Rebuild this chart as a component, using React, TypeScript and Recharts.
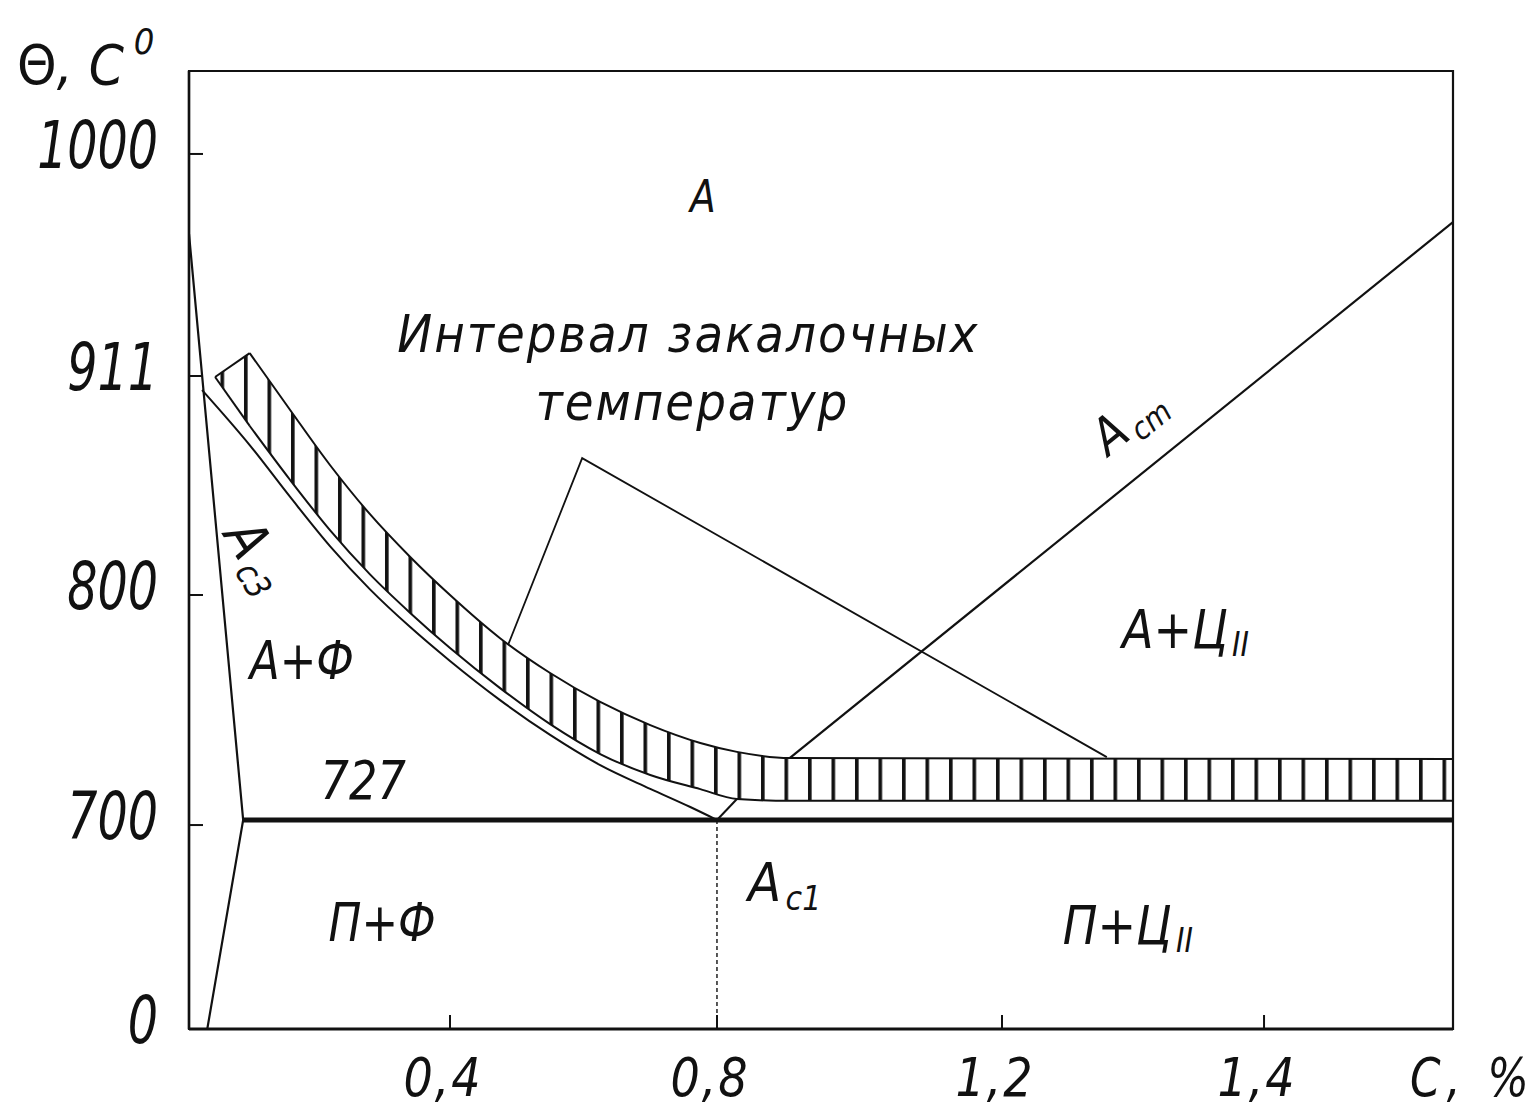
import React from 'react';
import {
  ComposedChart,
  XAxis,
  YAxis,
  Line,
  Area,
  ReferenceArea,
  ReferenceDot,
} from 'recharts';

// ---------- schematic axes (piecewise-linear) ----------
// carbon content, %: knot values and their share of the axis length
const carbonKnots = [0, 0.4, 0.8, 1.2, 1.4, 1.6];
const carbonKnotShare = [0, 0.2065, 0.4177, 0.6432, 0.8505, 1];
const carbonTicks = [0.4, 0.8, 1.2, 1.4];

// temperature, °C: knot values and their share of the axis height
const tempKnots = [0, 700, 727, 800, 911, 1000, 1035];
const tempKnotShare = [0, 0.2129, 0.2182, 0.453, 0.6816, 0.9134, 1];
const tempTicks = [0, 700, 800, 911, 1000];

// ---------- phase boundaries ----------
// ferrite boundary near the iron side
const gpC = [0, 0.083, 0.028];
const gpT = [968, 727, 0];

// Ac3 line
const ac3C = [0.02, 0.093, 0.155, 0.216, 0.277, 0.339, 0.4, 0.475, 0.55, 0.625, 0.7, 0.76, 0.8];
const ac3T = [903.9, 876.0, 849.7, 824.8, 803.0, 789.6, 778.6, 765.9, 754.6, 744.8, 737.1, 731.2, 727];

// eutectoid line (Ac1)
const ac1C = [0.083, 1.6];
const ac1T = [727, 727];

// Acm line
const acmC = [0.902, 1.6];
const acmT = [747.1, 972.7];

// eutectoid composition drop line
const eutC = [0.8, 0.8];
const eutT = [727, 0];

// quenching temperature interval: left wedge
const capC = [0.04, 0.093];
const capLow = [910.5, 885.7];
const capHigh = [910.5, 920.2];

// quenching temperature interval: main band
const bandC = [0.093, 0.155, 0.216, 0.277, 0.339, 0.4, 0.475, 0.55, 0.625, 0.7, 0.775, 0.828, 0.902, 1.6];
const bandLow = [885.7, 858.3, 832.9, 810.6, 794.2, 782.8, 769.8, 758.1, 748.4, 741.6, 737.0, 733.8, 733.2, 733.2];
const bandHigh = [920.2, 893.8, 865.9, 841.1, 819.3, 800.0, 786.0, 774.7, 765.3, 757.8, 752.0, 749.1, 747.1, 746.8];

// short closing stroke between Ac3 and the band
const closeC = [0.8, 0.828];
const closeT = [727, 733.8];

// leader from the caption to both parts of the band
const leaderC = [0.487, 0.598, 1.28];
const leaderT = [783.8, 869.4, 747.4];

// ---------- annotations ----------
const notes = [
  { key: 'austenite', c: 0.779, t: 983, text: 'А', sub: '' },
  { key: 'cap1', c: 0.757, t: 928, text: 'Интервал закалочных', sub: '' },
  { key: 'cap2', c: 0.763, t: 898, text: 'температур', sub: '' },
  { key: 'af', c: 0.173, t: 779, text: 'А+Ф', sub: '' },
  { key: 'ac', c: 1.34, t: 789, text: 'А+Ц', sub: 'II' },
  { key: 't727', c: 0.267, t: 740, text: '727', sub: '' },
  { key: 'ac1', c: 0.895, t: 504, text: 'A', sub: 'c1' },
  { key: 'pf', c: 0.296, t: 367, text: 'П+Ф', sub: '' },
  { key: 'pc', c: 1.296, t: 357, text: 'П+Ц', sub: 'II' },
  { key: 'ac3', c: 0.106, t: 820, text: 'A', sub: 'c3' },
  { key: 'acm', c: 1.296, t: 889, text: 'A', sub: 'cm' },
];

const noteSize: Record<string, number> = {
  austenite: 44, cap1: 52, cap2: 52, af: 54, ac: 54, t727: 54, ac1: 54, pf: 54, pc: 54, ac3: 56, acm: 50,
};
const noteSqueeze: Record<string, number> = {
  austenite: 0.95, cap1: 1, cap2: 1, af: 0.9, ac: 0.95, t727: 0.92, ac1: 1, pf: 0.9, pc: 0.95, ac3: 0.95, acm: 1,
};
const noteAngle: Record<string, number> = { ac3: 58, acm: -39 };
const noteSpacing: Record<string, number> = { cap1: 2, cap2: 2 };

const FONT = "'DejaVu Sans Condensed', 'DejaVu Sans', sans-serif";
const INK = '#111';

// ---------- helpers ----------
function piecewiseScale(knots: number[], share: number[]) {
  let dom: number[] = [knots[0], knots[knots.length - 1]];
  let rng: number[] = [0, 1];
  const frac = (v: number) => {
    if (v <= knots[0]) {
      return share[0] + ((v - knots[0]) * (share[1] - share[0])) / (knots[1] - knots[0]);
    }
    for (let i = 1; i < knots.length; i += 1) {
      if (v <= knots[i]) {
        const k = (v - knots[i - 1]) / (knots[i] - knots[i - 1]);
        return share[i - 1] + k * (share[i] - share[i - 1]);
      }
    }
    const n = knots.length - 1;
    return share[n] + ((v - knots[n]) * (share[n] - share[n - 1])) / (knots[n] - knots[n - 1]);
  };
  const scale: any = (v: number) => rng[0] + frac(Number(v)) * (rng[rng.length - 1] - rng[0]);
  scale.domain = (d?: number[]) => {
    if (d === undefined) return dom.slice();
    dom = d.slice();
    return scale;
  };
  scale.range = (r?: number[]) => {
    if (r === undefined) return rng.slice();
    rng = r.slice();
    return scale;
  };
  scale.copy = () => piecewiseScale(knots, share).domain(dom).range(rng);
  scale.ticks = () => knots.slice();
  scale.tickFormat = () => (v: number) => String(v);
  scale.invert = (p: number) => {
    const f = (p - rng[0]) / (rng[rng.length - 1] - rng[0]);
    for (let i = 1; i < share.length; i += 1) {
      if (f <= share[i]) {
        const k = (f - share[i - 1]) / (share[i] - share[i - 1]);
        return knots[i - 1] + k * (knots[i] - knots[i - 1]);
      }
    }
    return knots[knots.length - 1];
  };
  return scale;
}

const carbonScale = piecewiseScale(carbonKnots, carbonKnotShare);
const tempScale = piecewiseScale(tempKnots, tempKnotShare);

const rows = (c: number[], t: number[]) => c.map((x, i) => ({ c: x, t: t[i] }));
const rangeRows = (c: number[], lo: number[], hi: number[]) =>
  c.map((x, i) => ({ c: x, range: [lo[i], hi[i]] }));

const commaNum = (v: number) => String(v).replace('.', ',');

// narrow drafting-style lettering: a condensed face squeezed horizontally
function Lettering(props: any) {
  const { x, y, size, squeeze = 1, anchor = 'middle', angle = 0, spacing = 0, children } = props;
  return (
    <text
      x={0}
      y={0}
      textAnchor={anchor}
      dominantBaseline="central"
      fontFamily={FONT}
      fontStyle="italic"
      fontSize={size}
      letterSpacing={spacing}
      fill={INK}
      transform={`translate(${x} ${y}) rotate(${angle}) scale(${squeeze} 1)`}
    >
      {children}
    </text>
  );
}

function TempTick(props: any) {
  const { x, y, payload } = props;
  return (
    <g>
      <line x1={x} x2={x + 14} y1={y} y2={y} stroke={INK} strokeWidth={2} />
      <Lettering x={x - 31} y={y - 9} size={66} squeeze={0.8} anchor="end">
        {payload.value}
      </Lettering>
    </g>
  );
}

function CarbonTick(props: any) {
  const { x, y, payload } = props;
  return (
    <g>
      <line x1={x} x2={x} y1={y} y2={y - 14} stroke={INK} strokeWidth={2} />
      <Lettering x={x - 7} y={y + 48} size={54} squeeze={0.95} spacing={2}>
        {commaNum(payload.value)}
      </Lettering>
    </g>
  );
}

function NoteText(props: any) {
  const { viewBox, text, sub, size, angle = 0, spacing = 0, squeeze = 1 } = props;
  const cx = viewBox.x + (viewBox.width || 0) / 2;
  const cy = viewBox.y + (viewBox.height || 0) / 2;
  return (
    <Lettering x={cx} y={cy} size={size} angle={angle} spacing={spacing} squeeze={squeeze}>
      {text}
      {sub ? (
        <tspan fontSize={size * 0.62} dy={size * 0.3} dx={size * 0.08}>
          {sub}
        </tspan>
      ) : null}
    </Lettering>
  );
}

function TempTitle(props: any) {
  const vb = props.viewBox || { x: 61, y: 63, width: 120, height: 958 };
  return (
    <text x={vb.x - 52} y={vb.y + 13} fontFamily={FONT} fontStyle="italic" fontSize={56} fill={INK}>
      <tspan fontStyle="normal">Θ</tspan>, C
      <tspan fontSize={36} dx={10} dy={-30}>
        0
      </tspan>
    </text>
  );
}

function CarbonTitle(props: any) {
  const vb = props.viewBox || { x: 181, y: 1021, width: 1264, height: 60 };
  return (
    <Lettering x={vb.x + vb.width - 43} y={vb.y + 48} size={54} squeeze={0.9} spacing={7} anchor="start">
      C, %
    </Lettering>
  );
}

const lineCommon = {
  dot: false,
  activeDot: false,
  isAnimationActive: false,
  stroke: INK,
  fill: 'none',
  legendType: 'none' as const,
};

export default function App() {
  return (
    <div style={{ width: 1526, height: 1100, background: '#fff' }}>
      <ComposedChart width={1526} height={1100} margin={{ top: 63, right: 81, bottom: 19, left: 61 }}>
        <defs>
          <pattern id="quenchHatch" patternUnits="userSpaceOnUse" width={23.5} height={40}>
            <rect x={1} y={0} width={3.6} height={40} fill={INK} />
          </pattern>
        </defs>

        <XAxis
          type="number"
          dataKey="c"
          domain={[0, 1.6]}
          scale={carbonScale}
          ticks={carbonTicks}
          interval={0}
          allowDataOverflow
          height={60}
          tickSize={0}
          tickMargin={0}
          tickLine={false}
          axisLine={{ stroke: INK, strokeWidth: 3 }}
          tick={(p: any) => <CarbonTick {...p} />}
          label={(p: any) => <CarbonTitle {...p} />}
        />
        <YAxis
          type="number"
          dataKey="t"
          domain={[0, 1035]}
          scale={tempScale}
          ticks={tempTicks}
          interval={0}
          allowDataOverflow
          width={120}
          tickSize={0}
          tickMargin={0}
          tickLine={false}
          axisLine={{ stroke: INK, strokeWidth: 2.5 }}
          tick={(p: any) => <TempTick {...p} />}
          label={(p: any) => <TempTitle {...p} />}
        />

        <Area
          data={rangeRows(capC, capLow, capHigh)}
          dataKey="range"
          type="linear"
          stroke={INK}
          strokeWidth={2}
          fill="url(#quenchHatch)"
          fillOpacity={1}
          dot={false}
          activeDot={false}
          isAnimationActive={false}
        />
        <Area
          data={rangeRows(bandC, bandLow, bandHigh)}
          dataKey="range"
          type="monotone"
          stroke={INK}
          strokeWidth={2}
          fill="url(#quenchHatch)"
          fillOpacity={1}
          dot={false}
          activeDot={false}
          isAnimationActive={false}
        />

        <Line {...lineCommon} data={rows(gpC, gpT)} dataKey="t" type="linear" strokeWidth={2.2} />
        <Line {...lineCommon} data={rows(ac3C, ac3T)} dataKey="t" type="monotone" strokeWidth={2} />
        <Line {...lineCommon} data={rows(closeC, closeT)} dataKey="t" type="linear" strokeWidth={2} />
        <Line {...lineCommon} data={rows(acmC, acmT)} dataKey="t" type="linear" strokeWidth={2.2} />
        <Line {...lineCommon} data={rows(leaderC, leaderT)} dataKey="t" type="linear" strokeWidth={1.8} />
        <Line
          {...lineCommon}
          data={rows(eutC, eutT)}
          dataKey="t"
          type="linear"
          strokeWidth={1.4}
          strokeDasharray="4 3"
        />
        <Line {...lineCommon} data={rows(ac1C, ac1T)} dataKey="t" type="linear" strokeWidth={5} />

        {notes.map((n) => (
          <ReferenceDot
            key={n.key}
            x={n.c}
            y={n.t}
            r={0}
            fill="none"
            stroke="none"
            ifOverflow="visible"
            label={(p: any) => (
              <NoteText
                viewBox={p.viewBox}
                text={n.text}
                sub={n.sub}
                size={noteSize[n.key]}
                squeeze={noteSqueeze[n.key]}
                angle={noteAngle[n.key] || 0}
                spacing={noteSpacing[n.key] || 0}
              />
            )}
          />
        ))}

        <ReferenceArea
          x1={0}
          x2={1.6}
          y1={0}
          y2={1035}
          fill="none"
          fillOpacity={0}
          stroke={INK}
          strokeWidth={2.2}
          ifOverflow="visible"
        />
      </ComposedChart>
    </div>
  );
}
